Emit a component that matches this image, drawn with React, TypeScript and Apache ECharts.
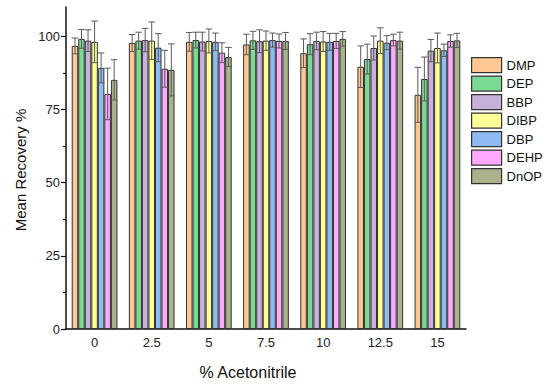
import React, { useEffect, useRef } from "react";
import * as echarts from "echarts";

const categories = ["0", "2.5", "5", "7.5", "10", "12.5", "15"];
const seriesNames = ["DMP", "DEP", "BBP", "DIBP", "DBP", "DEHP", "DnOP"];
const colors = ["#FFC792", "#7AD992", "#C7B1DB", "#FFFF98", "#8EBBF1", "#FFA9FF", "#A9B28B"];

const DMP = [96.7, 97.7, 98.1, 97.2, 94.2, 89.6, 80.0];
const DEP = [99.1, 98.5, 98.7, 98.6, 97.3, 92.2, 85.4];
const BBP = [98.5, 98.7, 98.2, 98.3, 98.4, 96.0, 95.1];
const DIBP = [98.1, 98.5, 98.4, 98.5, 98.2, 98.5, 96.0];
const DBP = [89.2, 96.1, 98.1, 98.7, 98.1, 97.8, 95.2];
const DEHP = [80.3, 88.9, 94.4, 98.4, 98.4, 98.7, 98.4];
const DnOP = [85.1, 88.5, 92.9, 98.4, 99.1, 98.5, 98.6];

const DMP_err = [2.7, 2.9, 3.2, 3.5, 4.9, 7.1, 9.4];
const DEP_err = [3.2, 2.9, 2.7, 3.1, 3.6, 5.1, 7.5];
const BBP_err = [3.7, 4.0, 3.2, 3.9, 3.0, 4.1, 3.8];
const DIBP_err = [7.1, 6.4, 4.1, 3.3, 3.4, 4.4, 5.1];
const DBP_err = [5.1, 4.8, 3.0, 2.4, 2.9, 2.4, 2.1];
const DEHP_err = [8.8, 6.3, 3.4, 2.4, 2.6, 2.0, 2.1];
const DnOP_err = [6.9, 8.9, 3.3, 2.9, 2.5, 2.9, 2.4];

const yMajorTicks = [0, 25, 50, 75, 100];
const yMinorTicks = [12.5, 37.5, 62.5, 87.5];

const values = [DMP, DEP, BBP, DIBP, DBP, DEHP, DnOP];
const errors = [DMP_err, DEP_err, BBP_err, DIBP_err, DBP_err, DEHP_err, DnOP_err];

const FONT = "'Liberation Sans', Arial, sans-serif";
const GAP = 0.2;

export default function App() {
  const ref = useRef<HTMLDivElement>(null);
  useEffect(() => {
    if (!ref.current) return;
    document.body.style.margin = "0";
    const chart = echarts.init(ref.current, null, { renderer: "svg" });
    const n = seriesNames.length;
    const barSeries = seriesNames.map((name, i) => ({
      name,
      type: "bar",
      data: values[i],
      barGap: "0%",
      barCategoryGap: "20%",
      itemStyle: { color: colors[i], borderColor: "#333", borderWidth: 1 },
      z: 2,
    }));
    const errSeries = seriesNames.map((name, i) => ({
      name: name + "_err",
      type: "custom",
      z: 5,
      silent: true,
      encode: { x: 0, y: 1 },
      data: values[i].map((v, k) => [k, v, errors[i][k]]),
      renderItem: (params: any, api: any) => {
        const cat = api.value(0);
        const v = api.value(1);
        const e = api.value(2);
        const band = api.size([1, 0])[0];
        const barW = (band * (1 - GAP)) / n;
        const c = api.coord([cat, v]);
        const x = c[0] - (band * (1 - GAP)) / 2 + (i + 0.5) * barW;
        const top = api.coord([cat, v + e])[1];
        const bot = api.coord([cat, v - e])[1];
        const hw = barW / 2;
        const st = { stroke: "#5a5a5a", lineWidth: 1 };
        return {
          type: "group",
          children: [
            { type: "line", shape: { x1: x, y1: top, x2: x, y2: bot }, style: st },
            { type: "line", shape: { x1: x - hw, y1: top, x2: x + hw, y2: top }, style: st },
            { type: "line", shape: { x1: x - hw, y1: bot, x2: x + hw, y2: bot }, style: st },
          ],
        };
      },
    }));
    chart.setOption({
      animation: false,
      textStyle: { fontFamily: FONT },
      grid: { left: 66, right: 84, top: 7, bottom: 56, containLabel: false },
      legend: {
        data: seriesNames,
        orient: "vertical",
        left: 471,
        top: 57,
        padding: 0,
        itemWidth: 30,
        itemHeight: 15,
        itemGap: 2.3,
        icon: "rect",
        itemStyle: { borderColor: "#333", borderWidth: 1.2 },
        textStyle: { fontSize: 13, color: "#111", fontFamily: FONT },
      },
      xAxis: {
        type: "category",
        data: categories,
        axisLine: { lineStyle: { color: "#111", width: 1.5 } },
        axisTick: { show: false },
        axisLabel: { fontSize: 13, color: "#222", margin: 7, fontFamily: FONT },
      },
      yAxis: [
        {
          type: "value",
          min: 0,
          max: 110,
          interval: 25,
          axisLine: { show: true, lineStyle: { color: "#111", width: 1.5 } },
          axisTick: { show: true, length: 5, customValues: yMajorTicks, lineStyle: { color: "#111", width: 1.2 } },
          axisLabel: { fontSize: 13, color: "#222", margin: 6, customValues: yMajorTicks, fontFamily: FONT },
          splitLine: { show: false },
        },
        {
          type: "value",
          min: 0,
          max: 110,
          position: "left",
          axisLine: { show: false },
          axisTick: { show: true, length: 3, customValues: yMinorTicks, lineStyle: { color: "#111", width: 1.2 } },
          axisLabel: { show: false },
          splitLine: { show: false },
        },
      ],
      graphic: [
        {
          type: "text",
          x: 20,
          y: 170,
          rotation: Math.PI / 2,
          style: {
            text: "Mean Recovery %",
            fontSize: 15,
            fill: "#111",
            fontFamily: FONT,
            align: "center",
            verticalAlign: "middle",
          },
        },
        {
          type: "text",
          x: 248,
          y: 372,
          style: {
            text: "% Acetonitrile",
            fontSize: 16,
            fill: "#111",
            fontFamily: FONT,
            align: "center",
            verticalAlign: "middle",
          },
        },
      ],
      series: [...barSeries, ...errSeries],
    });
    return () => chart.dispose();
  }, []);
  return <div ref={ref} style={{ width: 550, height: 385 }} />;
}
